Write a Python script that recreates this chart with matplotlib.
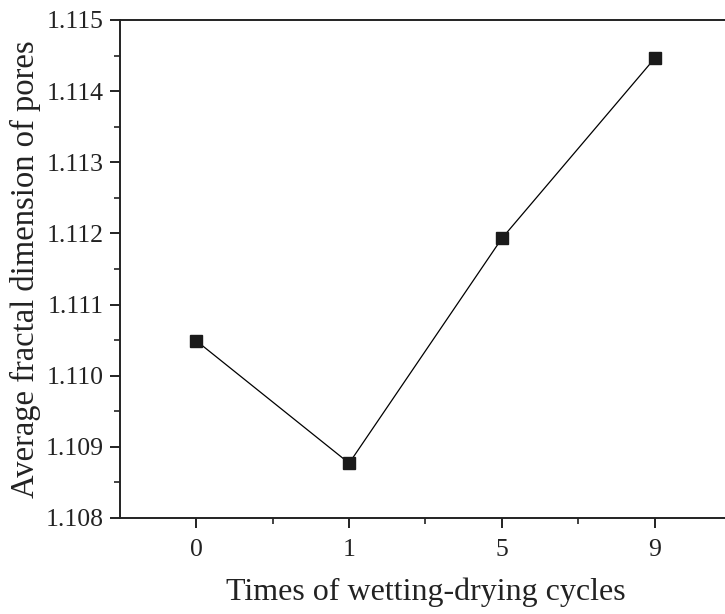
import matplotlib
matplotlib.use("Agg")
import matplotlib.pyplot as plt
from matplotlib.ticker import MultipleLocator, FixedLocator

categories = ["0", "1", "5", "9"]
values = [1.11049, 1.10877, 1.11193, 1.11446]

plt.rcParams['font.family'] = ['Liberation Serif', 'DejaVu Serif']

fig = plt.figure(figsize=(7.25, 6.14), dpi=100)
ax = fig.add_axes([120/725, 96/614, 611/725, 498/614])

x = list(range(len(categories)))
ax.plot(x, values, color='black', lw=0.9, marker='s', markersize=8,
        markerfacecolor='#1a1a1a', markeredgecolor='#1a1a1a')

ax.set_xlim(-0.5, len(categories) - 0.5)
ax.set_ylim(1.108, 1.115)
ax.set_xticks(x)
ax.set_xticklabels(categories)
ax.xaxis.set_minor_locator(FixedLocator([i + 0.5 for i in range(len(categories) - 1)]))
ax.yaxis.set_major_locator(MultipleLocator(0.001))
ax.yaxis.set_minor_locator(MultipleLocator(0.0005))
ax.yaxis.set_major_formatter(matplotlib.ticker.FormatStrFormatter('%.3f'))

for s in ['left', 'bottom', 'top', 'right']:
    ax.spines[s].set_linewidth(1.4)
    ax.spines[s].set_color('#222222')

ax.tick_params(which='major', direction='out', length=7, width=1.4, labelsize=18.5, colors='#222222', pad=5)
ax.tick_params(which='minor', direction='out', length=4, width=1.2, colors='#222222')
ax.tick_params(axis='x', which='major', pad=8)

ax.set_xlabel("Times of wetting-drying cycles", fontsize=23, labelpad=12, color='#222222')
ax.set_ylabel("Average fractal dimension of pores", fontsize=23.5, labelpad=3, color='#222222')

fig.savefig("out.png", dpi=100)
